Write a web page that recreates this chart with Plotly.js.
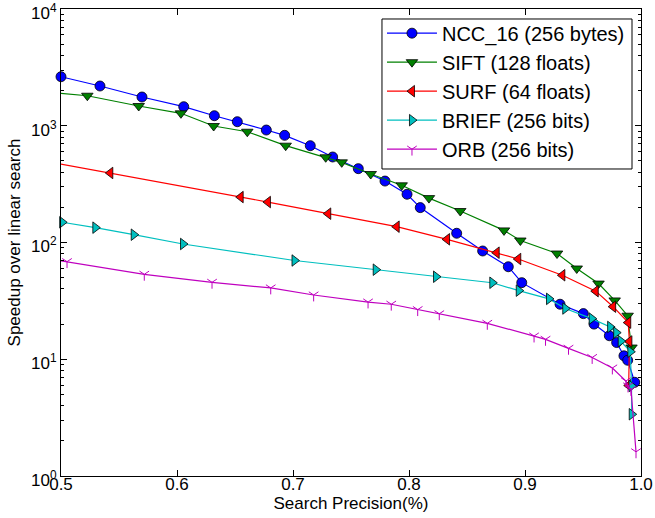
<!DOCTYPE html>
<html>
<head>
<meta charset="utf-8">
<script src="https://cdn.plot.ly/plotly-3.0.1.min.js"></script>
<style>html,body{margin:0;padding:0;background:#fff;}#chart{width:655px;height:518px;}</style>
</head>
<body>
<div id="chart"></div>
<script>
// Series names
const seriesNames = ["NCC_16 (256 bytes)", "SIFT (128 floats)", "SURF (64 floats)", "BRIEF (256 bits)", "ORB (256 bits)"];

// NCC_16
const nccPrecision = [0.5, 0.5336, 0.5698, 0.6058, 0.6322, 0.652, 0.677, 0.6928, 0.7149, 0.7342, 0.7563, 0.7793, 0.7983, 0.8097, 0.8411, 0.8635, 0.8856, 0.8972, 0.9302, 0.9503, 0.9595, 0.9727, 0.979, 0.9853, 0.9885, 0.9946];
const nccSpeedup   = [2630, 2190, 1763, 1456, 1219, 1083, 919, 828, 675, 540, 429, 336, 259, 199, 120, 84.6, 62, 45.3, 29.6, 24.6, 20.0, 15.9, 13.9, 10.7, 9.8, 6.35];

// SIFT
const siftPrecision = [0.48, 0.5227, 0.567, 0.6034, 0.6316, 0.6606, 0.6937, 0.7282, 0.742, 0.767, 0.7937, 0.8172, 0.8442, 0.8819, 0.896, 0.9276, 0.9446, 0.9634, 0.9773, 0.9885, 0.9918];
const siftSpeedup   = [1977, 1808, 1476, 1278, 995, 889, 675, 537, 486, 386, 309, 240, 186, 127, 104, 80.5, 59.9, 44.5, 31.9, 23.6, 12.6];

// SURF
const surfPrecision = [0.47, 0.5425, 0.6549, 0.6784, 0.7304, 0.7894, 0.8328, 0.8756, 0.8942, 0.9322, 0.961, 0.976, 0.989, 0.990, 0.9894];
const surfSpeedup   = [533, 394, 245, 222, 176.5, 136.6, 106.5, 81.8, 72.2, 52.4, 38.3, 28.2, 20.6, 14.2, 5.96];

// BRIEF
const briefPrecision = [0.501, 0.5296, 0.5627, 0.6052, 0.7013, 0.7713, 0.8233, 0.8718, 0.8946, 0.9207, 0.9347, 0.9575, 0.9734, 0.9786, 0.9825, 0.9908, 0.9918, 0.992];
const briefSpeedup   = [149, 134, 116.6, 97.1, 70.1, 58.5, 50.9, 45.2, 38.7, 32.9, 27.2, 22.3, 18.9, 16.9, 14.3, 11.6, 5.9, 3.38];

// ORB
const orbPrecision = [0.48, 0.5052, 0.5718, 0.6302, 0.6808, 0.7178, 0.7647, 0.7847, 0.8075, 0.8261, 0.8675, 0.9078, 0.9177, 0.9375, 0.9579, 0.9753, 0.987, 0.9888, 0.9914, 0.9957];
const orbSpeedup   = [75.1, 68.5, 53.4, 45.6, 40.8, 35.5, 30.9, 29.6, 26.6, 24.5, 20.3, 15.8, 14.8, 12.4, 10.35, 8.41, 6.51, 5.9, 5.5, 1.61];

// Tick labels
const xTickVals = [0.5, 0.6, 0.7, 0.8, 0.9, 1.0];
const xTickText = ["0.5", "0.6", "0.7", "0.8", "0.9", "1.0"];
const yTickVals = [1, 10, 100, 1000, 10000];
const yTickText = ["10<sup>0</sup>", "10<sup>1</sup>", "10<sup>2</sup>", "10<sup>3</sup>", "10<sup>4</sup>"];

const minorY = [];
for (let d = 0; d < 4; d++) for (let k = 2; k <= 9; k++) minorY.push(k * Math.pow(10, d));

const FONT = "Liberation Sans, Arial, Helvetica, sans-serif";
const edge = {color: "#000", width: 0.8};

const traces = [
  {x: nccPrecision, y: nccSpeedup, name: seriesNames[0], mode: "lines+markers",
   line: {color: "#0000ff", width: 1.2}, marker: {symbol: "circle", size: 10, color: "#0000ff", line: edge}},
  {x: siftPrecision, y: siftSpeedup, name: seriesNames[1], mode: "lines+markers",
   line: {color: "#008000", width: 1.2}, marker: {symbol: "triangle-down", size: 10, color: "#008000", line: edge}},
  {x: surfPrecision, y: surfSpeedup, name: seriesNames[2], mode: "lines+markers",
   line: {color: "#ff0000", width: 1.2}, marker: {symbol: "triangle-left", size: 10, color: "#ff0000", line: edge}},
  {x: briefPrecision, y: briefSpeedup, name: seriesNames[3], mode: "lines+markers",
   line: {color: "#00bfbf", width: 1.2}, marker: {symbol: "triangle-right", size: 10, color: "#00bfbf", line: edge}},
  {x: orbPrecision, y: orbSpeedup, name: seriesNames[4], mode: "lines+markers",
   line: {color: "#bf00bf", width: 1.2}, marker: {symbol: "y-down", size: 8, color: "#bf00bf", line: {color: "#bf00bf", width: 1}}}
];
traces.forEach(t => { t.cliponaxis = false; });

const layout = {
  width: 655, height: 518,
  margin: {l: 61, r: 14, t: 9, b: 42},
  paper_bgcolor: "#fff", plot_bgcolor: "#fff",
  font: {family: FONT, color: "#000", size: 17},
  showlegend: true,
  legend: {
    x: 0.5534, y: 0.99, xanchor: "left", yanchor: "top",
    bgcolor: "rgba(0,0,0,0)", borderwidth: 0, itemwidth: 50,
    font: {family: FONT, size: 20, color: "#000"}
  },
  shapes: [
    {type: "rect", xref: "paper", yref: "paper", x0: 0.5534, x1: 0.9845, y0: 0.6574, y1: 0.9786,
     line: {color: "#000", width: 1}, fillcolor: "#fff", layer: "above"}
  ],
  xaxis: {
    range: [0.5, 1.0], tickmode: "array", tickvals: xTickVals, ticktext: xTickText,
    ticks: "inside", ticklen: 6, tickwidth: 1, tickcolor: "#000",
    showline: true, linecolor: "#000", linewidth: 1, mirror: "ticks",
    showgrid: false, zeroline: false, ticklabelstandoff: -7, ticklabeloverflow: "allow",
    tickfont: {family: FONT, size: 17},
    title: {text: "Search Precision(%)", font: {family: FONT, size: 17}, standoff: 3}
  },
  yaxis: {
    type: "log", range: [0, 4], tickmode: "array", tickvals: yTickVals, ticktext: yTickText,
    ticks: "inside", ticklen: 6, tickwidth: 1, tickcolor: "#000",
    showline: true, linecolor: "#000", linewidth: 1, mirror: "ticks",
    showgrid: false, zeroline: false, ticklabeloverflow: "allow", ticklabelshift: 4,
    minor: {tickmode: "array", tickvals: minorY, ticks: "inside", ticklen: 3, tickcolor: "#000", showgrid: false},
    tickfont: {family: FONT, size: 17},
    title: {text: "Speedup over linear search", font: {family: FONT, size: 17}, standoff: 6}
  }
};

Plotly.newPlot("chart", traces, layout, {displayModeBar: false, staticPlot: true});
</script>
</body>
</html>
